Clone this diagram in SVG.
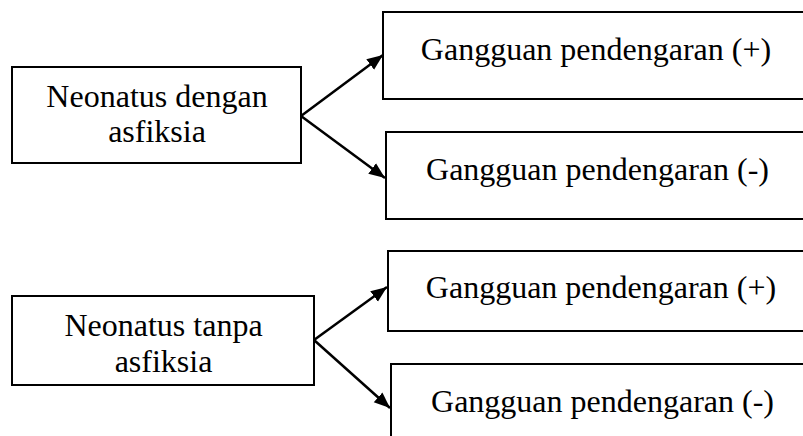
<svg xmlns="http://www.w3.org/2000/svg" width="803" height="436" viewBox="0 0 803 436">
  <style>
    .box { fill: #ffffff; stroke: #000000; stroke-width: 2; }
    .lbl { font-family: "Liberation Serif", "Times New Roman", serif; font-size: 32px; fill: #000000; text-anchor: middle; }
    .edge { stroke: #000000; stroke-width: 2.5; fill: none; marker-end: url(#arrow); }
  </style>
  <defs>
    <marker id="arrow" markerUnits="userSpaceOnUse" markerWidth="17" markerHeight="14" refX="16" refY="7" orient="auto">
      <path d="M0,0.5 L16,7 L0,13.5 Z" fill="#000000"/>
    </marker>
  </defs>
  <rect width="803" height="436" fill="#ffffff"/>

  <g id="connectors">
    <line class="edge" x1="301" y1="116" x2="383" y2="55"/>
    <line class="edge" x1="301" y1="116" x2="385" y2="178"/>
    <line class="edge" x1="314" y1="340" x2="387" y2="287"/>
    <line class="edge" x1="314" y1="340" x2="390" y2="408"/>
  </g>

  <g id="neonatus-dengan">
    <rect class="box" x="12" y="67" width="289" height="96"/>
    <text class="lbl" x="157" y="107">Neonatus dengan</text>
    <text class="lbl" x="157" y="142">asfiksia</text>
  </g>

  <g id="neonatus-tanpa">
    <rect class="box" x="12" y="296" width="302" height="89"/>
    <text class="lbl" x="163.5" y="336">Neonatus tanpa</text>
    <text class="lbl" x="163.5" y="372">asfiksia</text>
  </g>

  <g id="dengan-positif">
    <rect class="box" x="383" y="12" width="440" height="87"/>
    <text class="lbl" x="596" y="60">Gangguan pendengaran (+)</text>
  </g>

  <g id="dengan-negatif">
    <rect class="box" x="386" y="132" width="440" height="87"/>
    <text class="lbl" x="597.5" y="180">Gangguan pendengaran (-)</text>
  </g>

  <g id="tanpa-positif">
    <rect class="box" x="388" y="251" width="440" height="80"/>
    <text class="lbl" x="601" y="298">Gangguan pendengaran (+)</text>
  </g>

  <g id="tanpa-negatif">
    <rect class="box" x="391" y="364" width="440" height="100"/>
    <text class="lbl" x="602.5" y="412">Gangguan pendengaran (-)</text>
  </g>
</svg>
